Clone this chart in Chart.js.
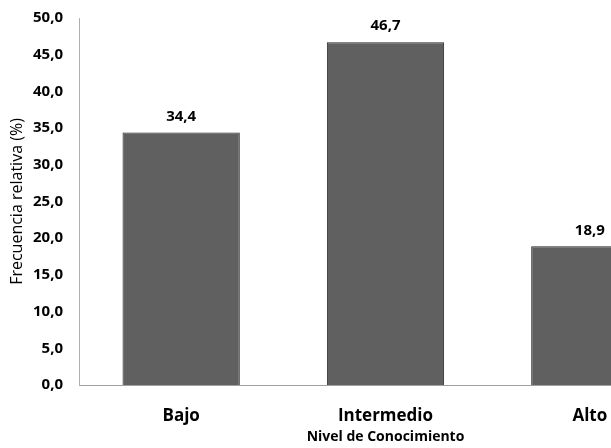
<!DOCTYPE html>
<html>
<head>
<meta charset="utf-8">
<script src="https://cdn.jsdelivr.net/npm/chart.js@4.4.1/dist/chart.umd.min.js"></script>
<style>
  html, body { margin: 0; padding: 0; background: #fff; overflow: hidden; }
  #wrap { width: 692px; height: 448px; position: relative; }
</style>
</head>
<body>
<div id="wrap"><canvas id="c"></canvas></div>
<script>
const categories = ['Bajo', 'Intermedio', 'Alto'];
const values = [34.4, 46.7, 18.9];
const yTicks = [0, 5, 10, 15, 20, 25, 30, 35, 40, 45, 50];
const xTitle = 'Nivel de Conocimiento';
const yTitle = 'Frecuencia relativa (%)';

const fmt = v => v.toFixed(1).replace('.', ',');
const FONT = '"Open Sans", sans-serif';

// value labels above each bar
const barLabels = {
  id: 'barLabels',
  afterDatasetsDraw(chart) {
    const ctx = chart.ctx;
    const meta = chart.getDatasetMeta(0);
    ctx.save();
    ctx.font = 'bold 15px ' + FONT;
    ctx.fillStyle = '#000';
    ctx.textAlign = 'center';
    ctx.textBaseline = 'middle';
    meta.data.forEach((bar, i) => {
      ctx.fillText(fmt(values[i]), bar.x, bar.y - 16);
    });
    ctx.restore();
  }
};

new Chart(document.getElementById('c'), {
  type: 'bar',
  data: {
    labels: categories,
    datasets: [{
      data: values,
      backgroundColor: '#606060',
      borderColor: '#262626',
      borderWidth: 1,
      barPercentage: 0.574,
      categoryPercentage: 1
    }]
  },
  options: {
    responsive: true,
    maintainAspectRatio: false,
    animation: false,
    layout: { padding: { top: 0, right: 0, bottom: 0, left: 0 } },
    plugins: { legend: { display: false }, tooltip: { enabled: false } },
    scales: {
      x: {
        grid: { display: false, drawTicks: false },
        border: { display: true, color: '#a0a0a0', width: 1 },
        ticks: { color: '#000', font: { family: FONT, size: 17, weight: 'bold' }, padding: 21 },
        title: { display: true, text: xTitle, color: '#000', font: { family: FONT, size: 14, weight: 'bold' }, padding: { top: 4, bottom: 3 } },
        afterFit(s) { s.height = 63; }
      },
      y: {
        min: 0, max: 50,
        afterBuildTicks(s) { s.ticks = yTicks.map(v => ({ value: v })); },
        grid: { display: false, drawTicks: false },
        border: { display: true, color: '#b0b0b0', width: 1 },
        ticks: { color: '#000', font: { family: FONT, size: 15, weight: 'bold' }, padding: 16, callback: v => fmt(v) },
        title: { display: true, text: yTitle, color: '#000', font: { family: FONT, size: 16 }, padding: { top: 8, bottom: 0 } },
        afterFit(s) { s.width = 79; s.paddingTop = 18; s.paddingBottom = 0; }
      }
    }
  },
  plugins: [barLabels]
});
</script>
</body>
</html>
